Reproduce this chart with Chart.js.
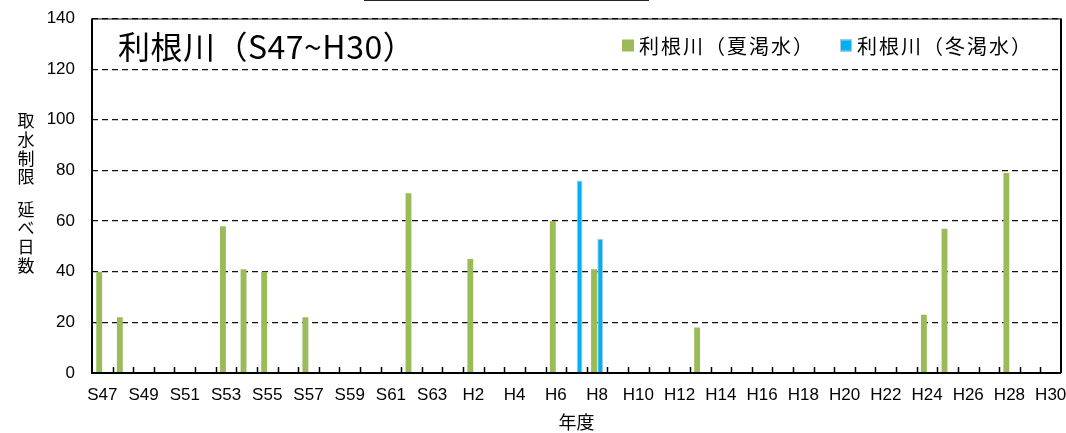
<!DOCTYPE html>
<html>
<head>
<meta charset="utf-8">
<script src="https://cdn.jsdelivr.net/npm/chart.js@4.4.1/dist/chart.umd.min.js"></script>
<style>
  html, body { margin: 0; padding: 0; background: #fff; }
  #wrap { position: relative; width: 1066px; height: 433px; }
  #topbox { position: absolute; left: 364px; top: -1px; width: 285px; height: 2px; background: #222; }
</style>
</head>
<body>
<div id="wrap">
  <canvas id="c" width="1066" height="433"></canvas>
  <div id="topbox"></div>
</div>
<script>
// Fiscal years S47 (1972) to H30 (2018)
const years = [
  'S47','S48','S49','S50','S51','S52','S53','S54','S55','S56','S57','S58','S59','S60','S61','S62','S63',
  'H1','H2','H3','H4','H5','H6','H7','H8','H9','H10','H11','H12','H13','H14','H15','H16','H17','H18','H19','H20',
  'H21','H22','H23','H24','H25','H26','H27','H28','H29','H30'
];

// Days under water-intake restriction, summer droughts
const summerDays = [
  40, 22, null, null, null, null, 58, 41, 40, null, 22, null, null, null, null, 71, null,
  null, 45, null, null, null, 60, null, 41, null, null, null, null, 18, null, null, null, null, null, null, null,
  null, null, null, 23, 57, null, null, 79, null, null
];

// Days under water-intake restriction, winter droughts
const winterDays = [
  null, null, null, null, null, null, null, null, null, null, null, null, null, null, null, null, null,
  null, null, null, null, null, null, 76, 53, null, null, null, null, null, null, null, null, null, null, null, null,
  null, null, null, null, null, null, null, null, null, null
];

const yTicks = [0, 20, 40, 60, 80, 100, 120, 140];
const seriesNames = ['利根川（夏渇水）', '利根川（冬渇水）'];
const chartTitle = '利根川（S47~H30）';
const yTitle = ['取', '水', '制', '限', '', '延', 'べ', '日', '数'];
const xTitle = '年度';

const JP = '"Noto Sans CJK JP", "Noto Sans", sans-serif';
const NUM = '"Liberation Sans", Arial, sans-serif';
const GREEN = '#9BBB59';
const BLUE = '#00B0F0';

// Inner tick marks between categories, plot frame, title, legend and y title
const decorations = {
  id: 'decorations',
  afterDatasetsDraw(chart) {
    const { ctx, chartArea: a, scales } = chart;
    const x = scales.x;
    ctx.save();
    // frame on top/right
    ctx.strokeStyle = '#000';
    ctx.lineWidth = 1;
    ctx.beginPath();
    ctx.moveTo(a.left, a.top + 0.5); ctx.lineTo(a.right, a.top + 0.5);
    ctx.stroke();
    ctx.lineWidth = 2;
    ctx.beginPath();
    ctx.moveTo(a.right, a.top); ctx.lineTo(a.right, a.bottom);
    ctx.stroke();
    // left axis and baseline
    ctx.beginPath();
    ctx.moveTo(a.left, a.top); ctx.lineTo(a.left, a.bottom);
    ctx.lineTo(a.right, a.bottom);
    ctx.stroke();
    // tick marks between categories, pointing inward
    ctx.lineWidth = 1.5;
    ctx.beginPath();
    for (let i = 1; i < years.length; i++) {
      const px = Math.round((x.getPixelForValue(i - 1) + x.getPixelForValue(i)) / 2) + 0.5;
      ctx.moveTo(px, a.bottom);
      ctx.lineTo(px, a.bottom - 6);
    }
    ctx.stroke();

    // chart title inside plot
    ctx.fillStyle = '#000';
    ctx.font = '32px ' + JP;
    ctx.letterSpacing = '0.5px';
    ctx.textBaseline = 'alphabetic';
    ctx.textAlign = 'left';
    ctx.fillText(chartTitle, a.left + 26, a.top + 40);

    // legend inside plot
    ctx.font = '20px ' + JP;
    ctx.letterSpacing = '2px';
    const items = [
      { x: 622, fill: GREEN, stroke: null },
      { x: 840, fill: BLUE, stroke: '#B4C7E7' }
    ];
    items.forEach((it, k) => {
      ctx.fillStyle = it.fill;
      ctx.fillRect(it.x, a.top + 21, 12, 12);
      if (it.stroke) {
        ctx.strokeStyle = it.stroke; ctx.lineWidth = 1;
        ctx.strokeRect(it.x + 0.5, a.top + 21.5, 11, 11);
      }
      ctx.fillStyle = '#000';
      ctx.fillText(seriesNames[k], it.x + 17, a.top + 35);
    });
    ctx.letterSpacing = '0px';

    // vertical y-axis title
    ctx.font = '17px ' + JP;
    ctx.textAlign = 'center';
    ctx.textBaseline = 'middle';
    let yy = 121;
    yTitle.forEach(ch => {
      if (ch) ctx.fillText(ch, 26, yy);
      yy += ch ? 18.6 : 14;
    });
    ctx.restore();
  }
};

new Chart(document.getElementById('c'), {
  type: 'bar',
  data: {
    labels: years,
    datasets: [
      {
        label: seriesNames[0],
        data: summerDays,
        backgroundColor: GREEN,
        borderWidth: 0,
        categoryPercentage: 0.6,
        barPercentage: 0.95
      },
      {
        label: seriesNames[1],
        data: winterDays,
        backgroundColor: BLUE,
        borderColor: '#B4C7E7',
        borderWidth: 1,
        categoryPercentage: 0.6,
        barPercentage: 0.95
      }
    ]
  },
  plugins: [decorations],
  options: {
    responsive: false,
    animation: false,
    layout: { padding: { top: 18.5, right: 5, left: 0, bottom: 0 } },
    plugins: {
      legend: { display: false },
      tooltip: { enabled: false },
      title: { display: false }
    },
    scales: {
      x: {
        type: 'category',
        grid: { display: false, drawTicks: false },
        border: { display: false },
        ticks: {
          autoSkip: false,
          maxRotation: 0,
          minRotation: 0,
          padding: 12,
          color: '#000',
          font: { family: NUM, size: 17 },
          callback: function (v, i) { return i % 2 === 0 ? years[i] : ''; }
        },
        title: {
          display: true,
          text: xTitle,
          color: '#000',
          font: { family: JP, size: 18 },
          padding: { top: 2, bottom: 0 }
        },
        afterFit(s) { s.height = 60; s.paddingLeft = 0; s.paddingRight = 0; }
      },
      y: {
        min: 0,
        max: 140,
        afterBuildTicks(s) { s.ticks = yTicks.map(v => ({ value: v })); },
        grid: {
          color: '#111',
          lineWidth: 1.2,
          drawTicks: false
        },
        border: { display: false, dash: [6, 4] },
        ticks: {
          padding: 17,
          color: '#000',
          font: { family: NUM, size: 17 }
        },
        afterFit(s) { s.width = 92; s.paddingTop = 0; s.paddingBottom = 0; }
      }
    }
  }
});
</script>
</body>
</html>
